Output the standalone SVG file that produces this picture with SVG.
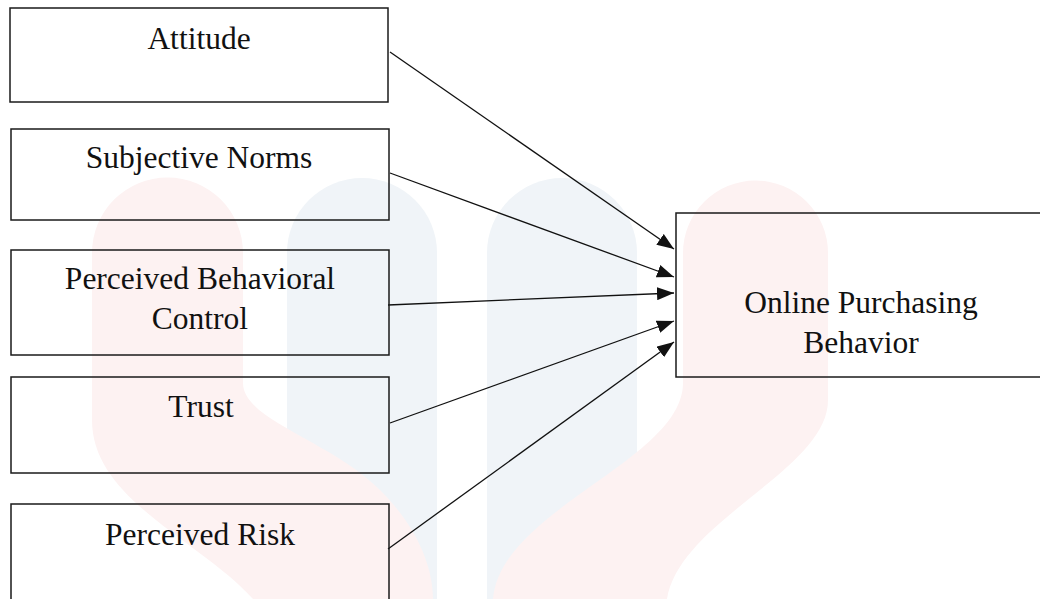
<svg xmlns="http://www.w3.org/2000/svg" width="1040" height="599" viewBox="0 0 1040 599">
<style>
.box{fill:none;stroke:#1a1a1a;stroke-width:1.5}
.lbl{font-family:"Liberation Serif","Times New Roman",serif;font-size:31.5px;fill:#111;text-anchor:middle}
.edge{stroke:#111;stroke-width:1.3;fill:none;marker-end:url(#arr)}
.wr{fill:#fdf2f2}
.wb{fill:#f0f4f8}
</style>
<defs>
<marker id="arr" markerUnits="userSpaceOnUse" markerWidth="17" markerHeight="13" refX="17" refY="6.5" orient="auto" viewBox="0 0 17 13">
<path d="M0,0 L17,6.5 L0,13 Z" fill="#111"/>
</marker>
</defs>
<rect width="1040" height="599" fill="#ffffff"/>
<g id="watermark">
<path class="wb" d="M287,253 A75,75 0 0 1 437,253 L437,599 L287,599 Z"/>
<path class="wb" d="M487,253 A75,75 0 0 1 637,253 L637,599 L487,599 Z"/>
<path class="wr" d="M92,253 A75.5,75.5 0 0 1 243,253 L243,383 C243,420 330,440 380,490 C420,530 433,570 433,599 L253,599 C200,540 92,500 92,420 Z"/>
<path class="wr" d="M683,253 A72.5,72.5 0 0 1 828,253 L828,400 C828,470 680,520 667,599 L493,599 C500,510 683,460 683,383 Z"/>
</g>
<g id="connectors">
<line class="edge" x1="390" y1="52" x2="674" y2="249"/>
<line class="edge" x1="390" y1="173" x2="674" y2="277"/>
<line class="edge" x1="388" y1="305" x2="674" y2="293"/>
<line class="edge" x1="390" y1="423" x2="674" y2="321"/>
<line class="edge" x1="388" y1="549" x2="674" y2="342"/>
</g>
<g id="attitude">
<rect class="box" x="10" y="8" width="378" height="94"/>
<text class="lbl" x="199" y="49">Attitude</text>
</g>
<g id="subjective-norms">
<rect class="box" x="11" y="129" width="378" height="91"/>
<text class="lbl" x="199" y="168">Subjective Norms</text>
</g>
<g id="perceived-behavioral-control">
<rect class="box" x="11" y="250" width="378" height="105"/>
<text class="lbl" x="200" y="289">Perceived Behavioral</text>
<text class="lbl" x="200" y="329">Control</text>
</g>
<g id="trust">
<rect class="box" x="11" y="377" width="378" height="96"/>
<text class="lbl" x="201" y="417">Trust</text>
</g>
<g id="perceived-risk">
<rect class="box" x="11" y="504" width="378" height="100"/>
<text class="lbl" x="200" y="545">Perceived Risk</text>
</g>
<g id="online-purchasing-behavior">
<rect class="box" x="676" y="213" width="380" height="164"/>
<text class="lbl" x="861" y="313">Online Purchasing</text>
<text class="lbl" x="861" y="353">Behavior</text>
</g>
</svg>
